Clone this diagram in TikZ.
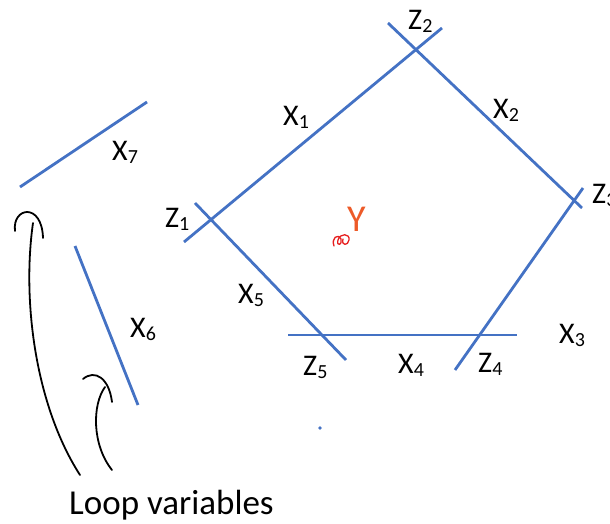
\documentclass[tikz,border=0pt]{standalone}
\usepackage{fontspec}
\setmainfont{Carlito}
\newcommand{\labsub}[2]{#1\raisebox{-3pt}{\fontsize{20}{22}\selectfont #2}}
\definecolor{edgeblue}{RGB}{68,114,196}
\definecolor{yorange}{RGB}{237,90,40}
\definecolor{scrib}{RGB}{230,30,30}
\begin{document}
\begin{tikzpicture}[x=1pt,y=-1pt,
  edge/.style={draw=edgeblue,line width=2.8pt},
  lab/.style={inner sep=0pt,anchor=base west,font=\fontsize{30}{34}\selectfont},
  loopline/.style={draw=black,line width=1.8pt,line cap=round}]
\useasboundingbox (0,0) rectangle (610,524);
% endpoints
\coordinate (a1) at (184,242); \coordinate (b1) at (442,28);
\coordinate (a2) at (388,23);  \coordinate (b2) at (582,208);
\coordinate (a3) at (583,188); \coordinate (b3) at (455,370);
\coordinate (a4) at (288,335); \coordinate (b4) at (517,335);
\coordinate (a5) at (195,203); \coordinate (b5) at (346,360);
\coordinate (a6) at (75,246);  \coordinate (b6) at (138,405);
\coordinate (a7) at (20,187);  \coordinate (b7) at (147,102);
\draw[edge] (a1) -- (b1);
\draw[edge] (a2) -- (b2);
\draw[edge] (a3) -- (b3);
\draw[edge] (a4) -- (b4);
\draw[edge] (a5) -- (b5);
\draw[edge] (a6) -- (b6);
\draw[edge] (a7) -- (b7);
% labels
\node[lab] (x1) at (283,125) {\labsub{X}{1}};
\node[lab] (x2) at (493,118) {\labsub{X}{2}};
\node[lab] (x3) at (559,343) {\labsub{X}{3}};
\node[lab] (x4) at (398,373) {\labsub{X}{4}};
\node[lab] (x5) at (238,303) {\labsub{X}{5}};
\node[lab] (x6) at (130,337) {\labsub{X}{6}};
\node[lab] (x7) at (112,160) {\labsub{X}{7}};
\node[lab] (z1) at (165,227) {\labsub{Z}{1}};
\node[lab] (z2) at (408,30) {\labsub{Z}{2}};
\node[lab] (z3) at (592,203) {\labsub{Z}{3}};
\node[lab] (z4) at (478,372) {\labsub{Z}{4}};
\node[lab] (z5) at (303,375) {\labsub{Z}{5}};
\node[inner sep=0pt,anchor=base west,text=yorange,font=\fontsize{38}{42}\selectfont] (y) at (347,231) {Y};
\node[inner sep=0pt,anchor=base west,font=\fontsize{35}{40}\selectfont] (loopvars) at (69,514) {Loop variables};
% red scribble
\draw[scrib,line width=1.3pt,line cap=round,line join=round]
  (334,246) .. controls (331,238) and (338,233) .. (341,239)
  .. controls (343,245) and (336,247) .. (338,240)
  .. controls (340,233) and (350,233) .. (349,240)
  .. controls (348,246) and (341,246) .. (343,239);
% blue dot
\fill[edgeblue] (320,428) circle (1.8pt);
% loop arrows
\coordinate (l1s) at (80,475); \coordinate (l1e) at (33,223);
\draw[loopline] (l1s) .. controls (35,405) and (22,300) .. (l1e);
\coordinate (h1a) at (15,231); \coordinate (h1b) at (43,238);
\draw[loopline] (h1a) .. controls (12,207) and (42,202) .. (h1b);
\coordinate (l2s) at (112,470); \coordinate (l2e) at (105,387);
\draw[loopline] (l2s) .. controls (92,445) and (92,405) .. (l2e);
\coordinate (h2a) at (83,379); \coordinate (h2b) at (112,402);
\draw[loopline] (h2a) .. controls (95,369) and (109,378) .. (h2b);
\end{tikzpicture}
\end{document}
